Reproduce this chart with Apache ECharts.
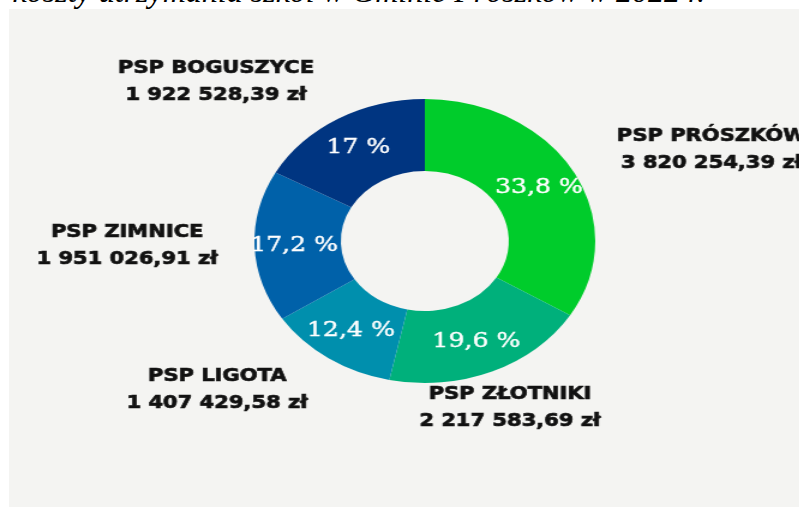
<!DOCTYPE html>
<html>
<head>
<meta charset="utf-8">
<script src="https://cdn.jsdelivr.net/npm/echarts@6/dist/echarts.min.js"></script>
<style>
  html, body { margin: 0; padding: 0; background: #ffffff; overflow: hidden; }
  #page { position: relative; width: 799px; height: 507px; overflow: hidden; }
  #panel { position: absolute; left: 9px; top: 9px; right: 0; bottom: 0; background: #f4f4f2; }
  #caption {
    position: absolute; right: 94px; top: -25px; white-space: nowrap;
    font: italic 32px/32px "Liberation Serif", serif; color: #000;
  }
  /* the donut in the source is an ellipse, so the chart layer is stretched sideways */
  #chart {
    position: absolute; left: 0; top: 0; width: 666px; height: 507px;
    transform: scaleX(1.2); transform-origin: 0 0;
  }
</style>
</head>
<body>
<div id="page">
  <div id="panel"></div>
  <div id="caption">koszty utrzymania szkół w Gminie Prószków w 2022 r.</div>
  <div id="chart"></div>
</div>
<script>
// data
var schools = ['PSP PRÓSZKÓW', 'PSP ZŁOTNIKI', 'PSP LIGOTA', 'PSP ZIMNICE', 'PSP BOGUSZYCE'];
var costs = [3820254.39, 2217583.69, 1407429.58, 1951026.91, 1922528.39];
var colors = ['#00cc2b', '#00b07b', '#008fad', '#0061a9', '#003581'];

// where the name/amount blocks sit (chart coords, before the 1.2 stretch)
var labelSpots = [[593, 150], [425, 408], [181, 390], [106, 246], [180, 82]];

var total = costs.reduce(function (a, b) { return a + b; }, 0);

function money(v) {
  var parts = v.toFixed(2).split('.');
  var whole = parts[0].replace(/\B(?=(\d{3})+(?!\d))/g, ' ');
  return whole + ',' + parts[1] + ' zł';
}
function pct(v) {
  var p = (v / total * 100).toFixed(1);
  if (p.slice(-2) == '.0') p = p.slice(0, -2);
  return p.replace('.', ',') + ' %';
}

var seriesData = [];
var ghostData = [];
for (var i = 0; i < schools.length; i++) {
  seriesData.push({ name: schools[i], value: costs[i], itemStyle: { color: colors[i] } });
  ghostData.push({ name: schools[i], value: costs[i] });
}

var txt = { fontFamily: 'DejaVu Sans', fontWeight: 'bold', fontSize: 17.5, color: '#111111',
  textBorderColor: '#111111', textBorderWidth: 0.7, lineHeight: 27, align: 'center' };

var chart = echarts.init(document.getElementById('chart'), null, { renderer: 'canvas' });
chart.setOption({
  animation: false,
  backgroundColor: 'transparent',
  series: [
    {
      type: 'pie',
      center: [354, 241],
      radius: [70, 142],
      startAngle: 90,
      silent: true,
      data: seriesData,
      label: {
        position: 'inside',
        color: '#ffffff',
        textBorderColor: '#ffffff',
        textBorderWidth: 0.4,
        fontFamily: 'DejaVu Serif',
        fontSize: 21,
        formatter: function (p) { return pct(p.value); }
      },
      labelLine: { show: false }
    },
    {
      type: 'pie',
      center: [354, 241],
      radius: [70, 142],
      startAngle: 90,
      silent: true,
      z: 1,
      data: ghostData,
      itemStyle: { color: 'rgba(0,0,0,0)' },
      label: {
        position: 'outside',
        alignTo: 'none',
        overflow: 'none',
        bleedMargin: 0,
        formatter: function (p) { return '{n|' + p.name + '}\n{v|' + money(p.value) + '}'; },
        rich: { n: txt, v: txt }
      },
      labelLine: { show: false },
      labelLayout: function (p) {
        var s = labelSpots[p.dataIndex];
        return { x: s[0], y: s[1], align: 'center', verticalAlign: 'middle', hideOverlap: false };
      }
    }
  ]
});
</script>
</body>
</html>
